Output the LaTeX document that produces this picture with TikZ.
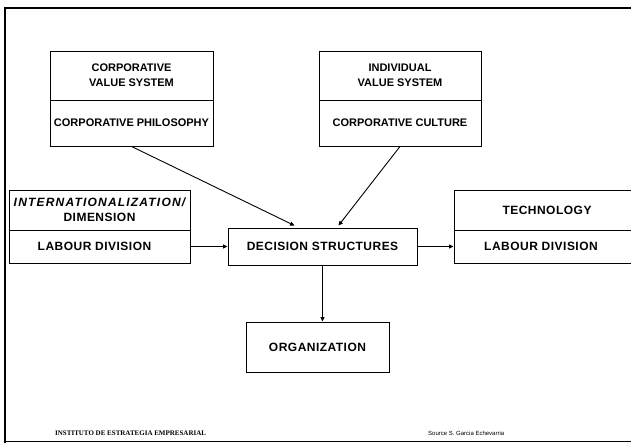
\documentclass[tikz,border=0pt]{standalone}
\usepackage{fontspec}
\setmainfont{Liberation Sans}
\newfontfamily\serifft{Liberation Serif}
\newfontfamily\boxfont[LetterSpace=4]{Liberation Sans}
\newfontfamily\widefont[LetterSpace=10]{Liberation Sans}
\usetikzlibrary{arrows.meta,calc}
\begin{document}
\begin{tikzpicture}[x=1pt,y=-1pt,
  box/.style={draw,line width=0.9pt,inner sep=0pt,align=center,font=\boxfont\bfseries\fontsize{12}{15}\selectfont},
  topbox/.style={box,font=\bfseries\fontsize{11}{15}\selectfont},
  arr/.style={line width=0.9pt,-{Triangle[length=4.5pt,width=4pt]}},
  frameline/.style={line width=1.2pt}]
\useasboundingbox (0,0) rectangle (631,443);
% frame
\draw[frameline] (631,8) -- (5,8) -- (5,443);
\draw[line width=0.6pt] (5,441) -- (631,441);
% top left
\node[topbox,minimum width=163pt,minimum height=49pt] (cvs) at (131.5,75.5) {CORPORATIVE\\VALUE SYSTEM};
\node[topbox,minimum width=163pt,minimum height=46pt] (cph) at (131.5,123) {CORPORATIVE PHILOSOPHY};
% top right
\node[topbox,minimum width=162pt,minimum height=49pt] (ivs) at (400,75.5) {INDIVIDUAL\\VALUE SYSTEM};
\node[topbox,minimum width=162pt,minimum height=46pt] (ccu) at (400,123) {CORPORATIVE CULTURE};
% middle left
\node[box,minimum width=181pt,minimum height=40pt] (int) at (99.5,210) {{\widefont\bfseries\itshape INTERNATIONALIZATION/}\\DIMENSION};
\node[box,minimum width=181pt,minimum height=33pt] (lab1) at (99.5,246.5) {\hspace*{-10pt}LABOUR DIVISION};
% decision
\node[box,minimum width=189pt,minimum height=37pt] (dec) at (322.5,246.5) {DECISION STRUCTURES};
% right
\node[box,minimum width=186pt,minimum height=40pt] (tec) at (547,210) {TECHNOLOGY};
\node[box,minimum width=186pt,minimum height=33pt] (lab2) at (547,246.5) {\hspace*{-12pt}LABOUR DIVISION};
% organization
\node[box,minimum width=143pt,minimum height=50pt] (org) at (317.5,347) {ORGANIZATION};
% arrows
\coordinate (tipL) at ($(dec.north)+(-28,-2)$);
\coordinate (tipR) at ($(dec.north)+(16,-2)$);
\draw[arr] (cph.south) -- (tipL);
\draw[arr] (ccu.south) -- (tipR);
\draw[arr] (lab1.east) -- (dec.west);
\draw[arr] (dec.east) -- (lab2.west);
\draw[arr] (dec.south) -- (dec.south |- org.north);
% footer
\node[font=\serifft\bfseries\fontsize{7}{8}\selectfont,anchor=west,inner sep=0pt] (inst) at (55,433) {INSTITUTO DE ESTRATEGIA EMPRESARIAL};
\node[font=\fontsize{6}{7}\selectfont,anchor=west,inner sep=0pt] (src) at (428,433) {Source S. Garcia Echevarria};
\end{tikzpicture}
\end{document}
